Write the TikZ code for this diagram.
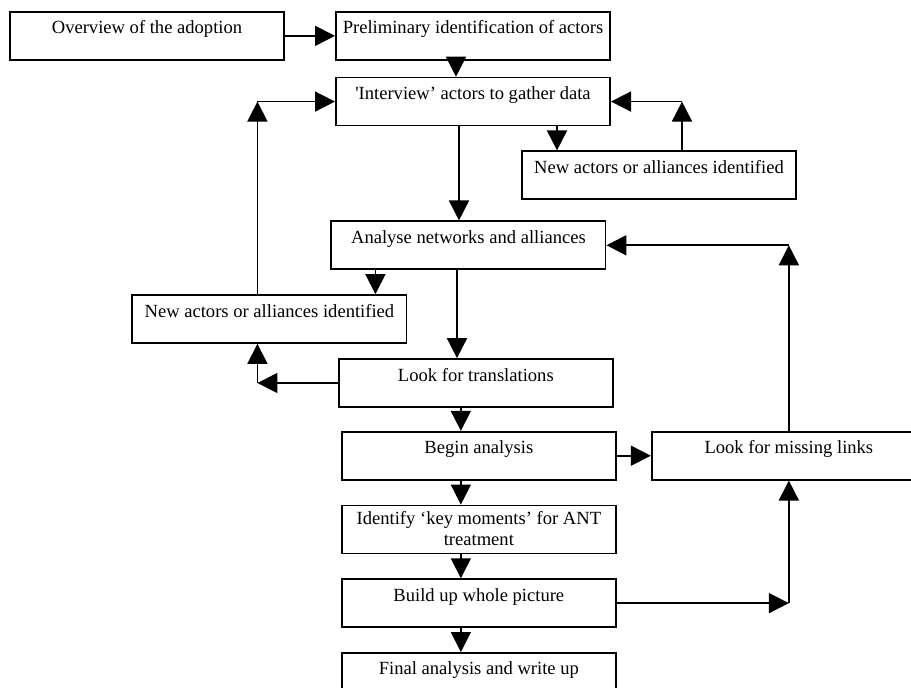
\documentclass[tikz,border=0pt]{standalone}
\usepackage{fontspec}
\setmainfont{Liberation Serif}
\usetikzlibrary{positioning,arrows.meta}
\begin{document}
\begin{tikzpicture}[node distance={16.8pt}, line width=1.2pt, >={Triangle[length=14pt, width=14pt]},
    main/.style = {draw, minimum width=192pt, inner ysep=4pt, text height=11.4pt, text depth=14.2pt, font=\fontsize{13}{14.7}\selectfont}]
    \path[use as bounding box, clip] (0,0) rectangle (637.7pt,-481.6pt);
    \node[main, anchor=north west] (1) at (6.3pt,-7.7pt) {Overview of the adoption};
    \node[main] (2) [right=35pt of 1] {Preliminary identification of actors};
    \node[main] (3) [below=11.2pt of 2] {\textquotesingle Interview’ actors to gather data};
    \node[main] (4) [below right=16.8pt and -63pt of 3] {New actors or alliances identified};
    \node[main] (5) [below=65.8pt of 3, xshift=-3.2pt] {Analyse networks and alliances};
    \node[main] (6) [below left=16.8pt and -53.9pt of 5] {New actors or alliances identified};
    \node[main] (7) [below=61.6pt of 5, xshift=5.2pt] {Look for translations};
    \node[main] (8) [below=16.1pt of 7, xshift=2.1pt] {Begin analysis};
    \node[main] (9) [right=23.8pt of 8] {Look for missing links};
    \node[main, align=center, text height=24pt, text depth=1.6pt] (10) [below=of 8] {Identify ‘key moments’ for ANT\\treatment};
    \node[main] (11) [below=of 10] {Build up whole picture};
    \node[main] (12) [below=of 11] {Final analysis and write up};

    \coordinate (a1) at ([xshift=-11.9pt]2.south);
    \coordinate (a2) at ([xshift=25.2pt]4.north west);
    \coordinate (a3) at ([xshift=112.7pt]4.north west);
    \coordinate (a4) at ([xshift=-9.8pt]3.south);
    \coordinate (a5) at ([xshift=31.5pt]5.south west);
    \coordinate (a6) at ([xshift=88.2pt]6.north west);
    \coordinate (a7) at ([xshift=-8pt]5.south);
    \coordinate (a8) at ([xshift=-12.6pt]8.north);

    \draw[->] (1) -- (2);
    \draw[->] (a1) -- (a1 |- 3.north);
    \draw[->] (3.south -| a2) -- (a2);
    \draw[->] (a3) -- (a3 |- 3.east);
    \draw[->] (a3 |- 3.east) -- (3.east);
    \draw[->] (a4) -- (a4 |- 5.north);
    \draw[->] (a5) -- (a5 |- 6.north);
    \draw[->] (a6) -- (a6 |- 3.west);
    \draw[->] (a6 |- 3.west) -- (3.west);
    \draw[->] (a7) -- (a7 |- 7.north);
    \draw[->] (7.west) -- (7.west -| a6);
    \draw[->] (7.west -| a6) -- (a6 |- 6.south);
    \draw[->] (7.south -| a8) -- (a8);
    \draw[->] (8) -- (9);
    \draw[->] (9.north) -- (9.north |- 5.east);
    \draw[->] (9.north |- 5.east) -- (5.east);
    \draw[->] (8.south -| a8) -- (10.north -| a8);
    \draw[->] (10.south -| a8) -- (11.north -| a8);
    \draw[->] (11.east) -- (11.east -| 9.south);
    \draw[->] (11.east -| 9.south) -- (9.south);
    \draw[->] (11.south -| a8) -- (12.north -| a8);
\end{tikzpicture}
\end{document}
